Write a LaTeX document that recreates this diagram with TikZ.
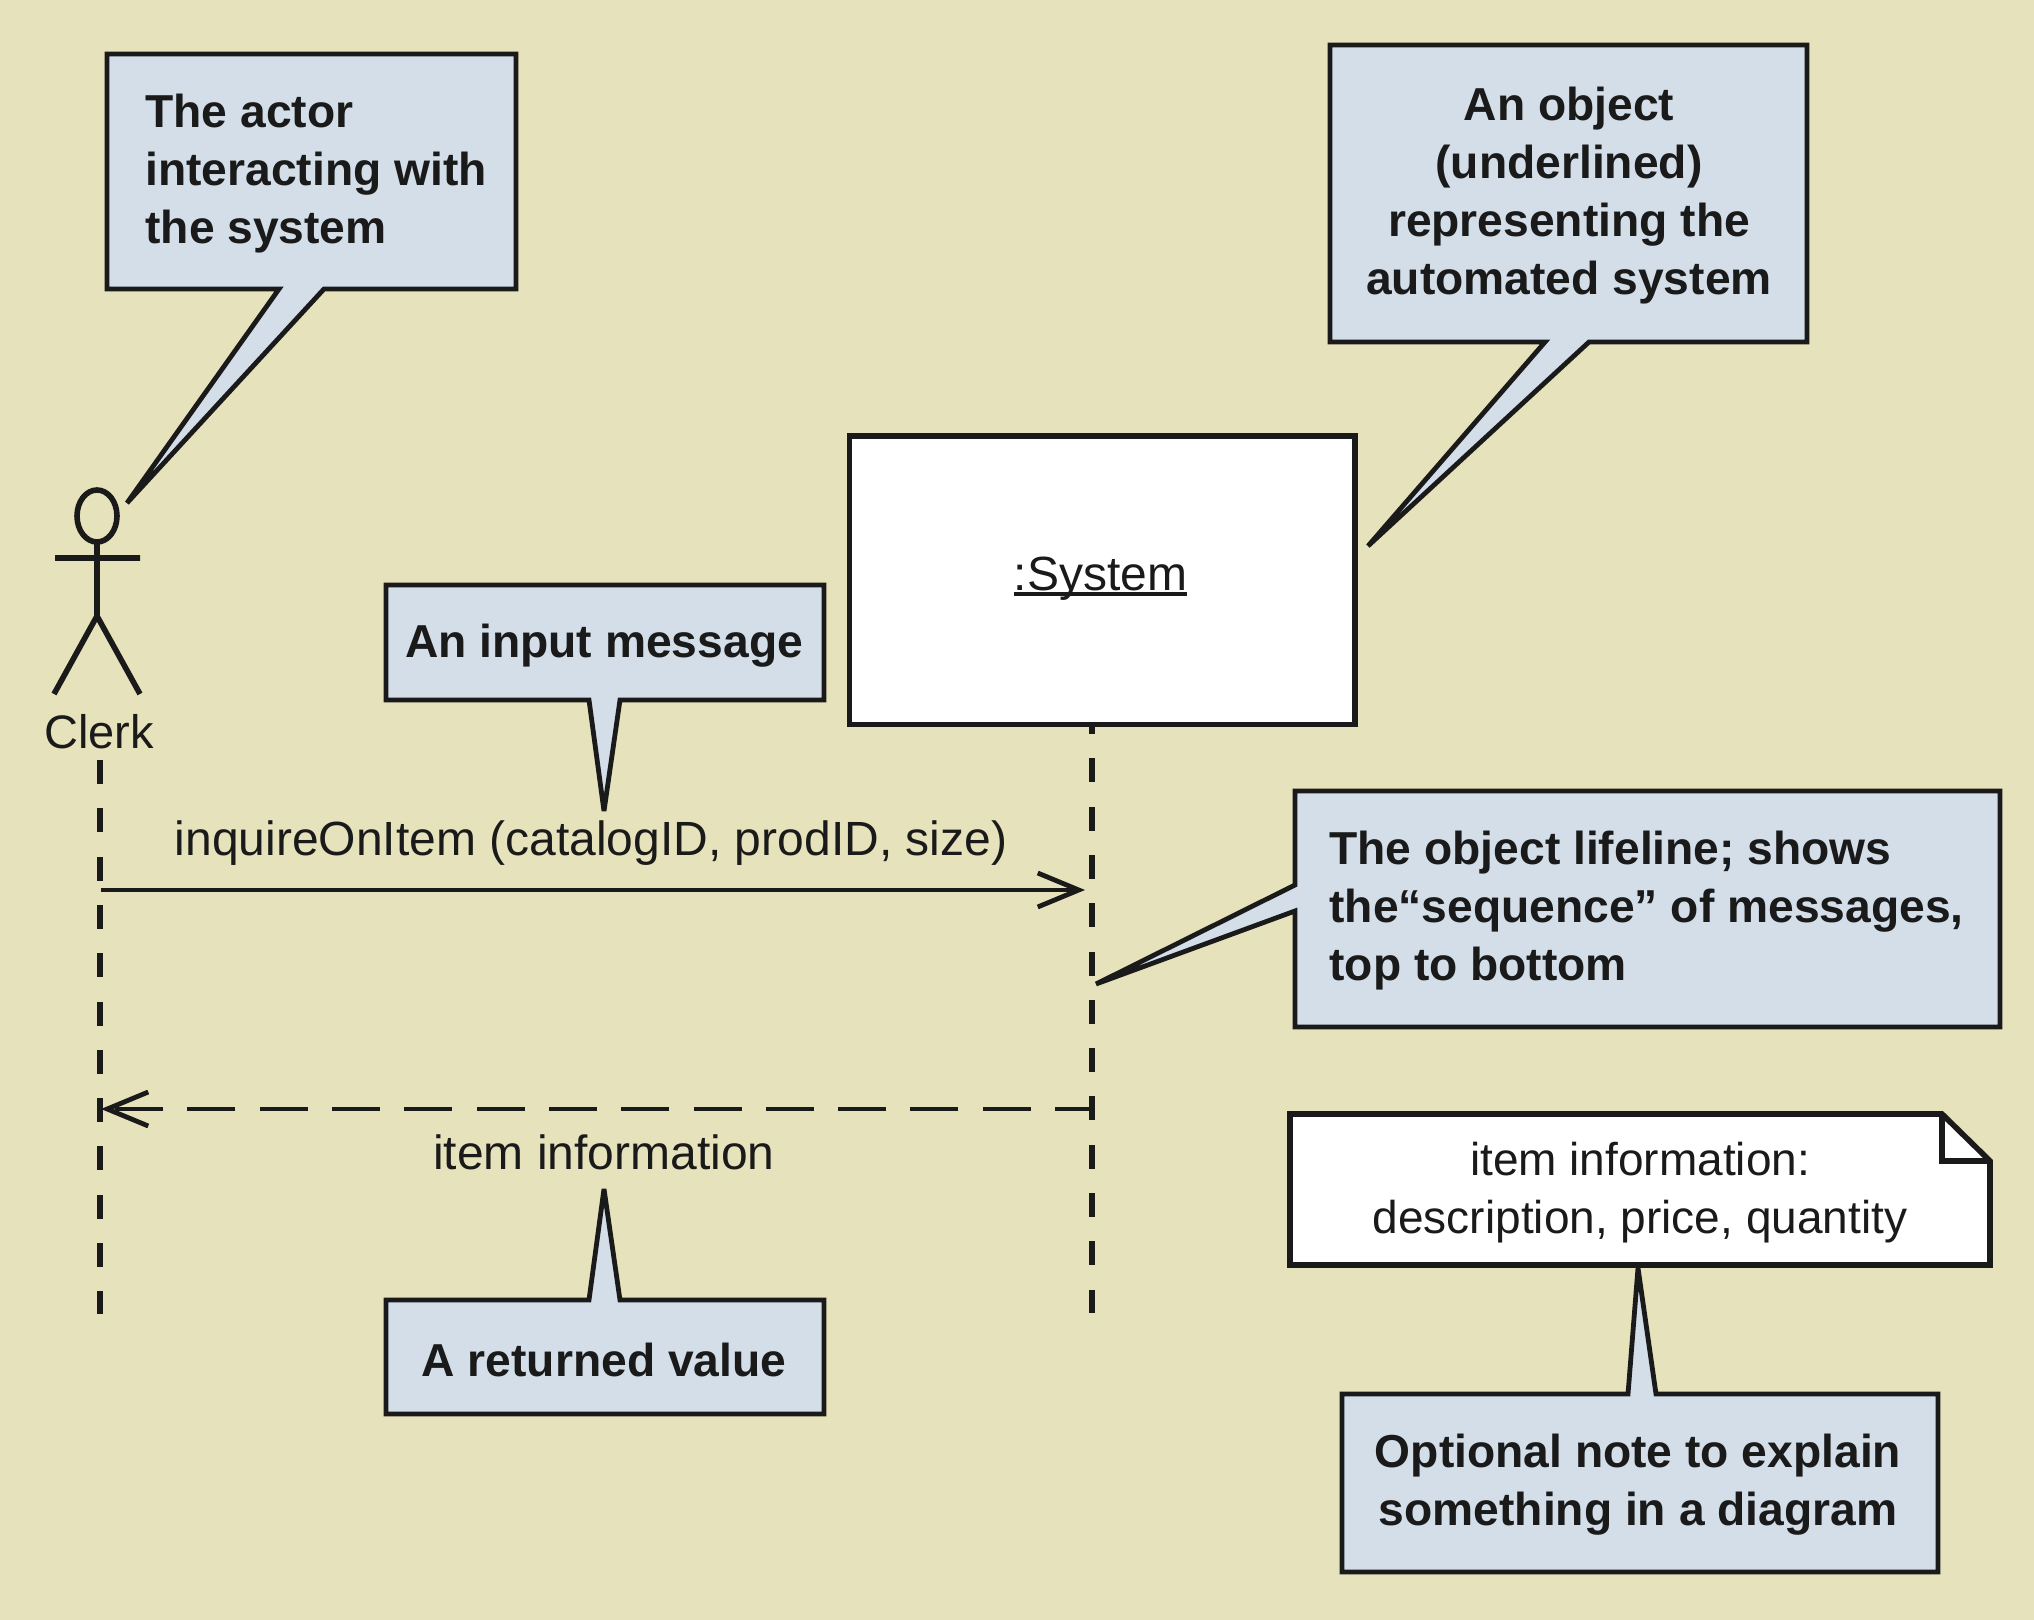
\documentclass[tikz,border=0pt]{standalone}
\usepackage{fontspec}
\setmainfont{Liberation Sans}
\usetikzlibrary{arrows.meta}
\definecolor{bgc}{HTML}{E6E2BB}
\definecolor{boxc}{HTML}{D3DEE9}
\definecolor{ink}{HTML}{1A1A1A}
\newcommand{\sysul}[1]{\setbox0\hbox{#1}\rlap{\rule[-2.8pt]{\wd0}{1.6pt}}\box0 }
\tikzset{
  x=0.5pt,y=-0.5pt,
  callout/.style={draw=ink,fill=boxc,line width=2.4pt,line join=miter,miter limit=3},
  bold text/.style={text=ink,inner sep=0pt,font=\fontsize{23.1}{29}\selectfont\bfseries},
  plain text/.style={text=ink,inner sep=0pt,font=\fontsize{24}{29}\selectfont},
  note text/.style={text=ink,inner sep=0pt,font=\fontsize{23}{29}\selectfont},
  lifeline/.style={draw=ink,line width=3.4pt,dash pattern=on 12pt off 12.15pt},
  msg/.style={draw=ink,line width=2.2pt,-{Straight Barb[length=20.5pt,width=17pt,line width=2.4pt]}},
  figure/.style={draw=ink,line width=2.8pt}
}
\begin{document}
\begin{tikzpicture}
\path[use as bounding box,fill=bgc] (0,0) rectangle (2034,1620);
% actor
\draw[figure] (97,516) ellipse [x radius=20,y radius=26];
\draw[figure] (97,542) -- (97,616) (55,558) -- (140,558) (54,694) -- (97,616) -- (140,694);
\node[plain text] (clerk) at (99,732) {\fontsize{23.5}{29}\selectfont Clerk};
% lifelines
\coordinate (clerkTop) at (100,760);
\coordinate (clerkEnd) at (100,1314);
\coordinate (sysTop) at (1092,724);
\coordinate (sysEnd) at (1092,1313);
\draw[lifeline] (clerkTop) -- (clerkEnd);
\draw[lifeline,dash phase=7pt] (sysTop) -- (sysEnd);
% system object
\node[draw=ink,fill=white,line width=2.8pt,minimum width=252.8pt,minimum height=144pt,anchor=north west,inner sep=0pt] (system) at (846.5,433.5) {};
\node[plain text,anchor=base] (systemLabel) at (1100.5,590) {\sysul{:System}};
% messages
\coordinate (m1a) at (101,890);
\coordinate (m1b) at (1085,890);
\coordinate (m2a) at (1092,1109);
\coordinate (m2b) at (101,1109);
\draw[msg] (m1a) -- (m1b);
\draw[msg,dash pattern=on 24pt off 12.15pt,dash phase=5.5pt] (m2a) -- (m2b);
\node[plain text] (m1label) at (591,843) {inquireOnItem (catalogID, prodID, size)};
\node[plain text] (m2label) at (604,1152) {item information};
% callouts
\draw[callout] (1342,1394) -- (1628,1394) -- (1638,1268) -- (1656,1394) -- (1938,1394) -- (1938,1572) -- (1342,1572) -- cycle;
\node[bold text,align=center] (c6) at (1638,1485) {Optional note to explain\\something in a diagram};
% note
\draw[draw=ink,fill=white,line width=2.8pt,line join=miter] (1290,1114) -- (1942,1114) -- (1990,1161) -- (1990,1265) -- (1290,1265) -- cycle;
\draw[draw=ink,line width=2.8pt] (1942,1114) -- (1942,1161) -- (1990,1161);
\node[note text,align=center] (note) at (1640,1193) {item information:\\description, price, quantity};
\draw[callout] (107,54) -- (516,54) -- (516,289) -- (324,289) -- (127,503) -- (279,289) -- (107,289) -- cycle;
\node[bold text,align=left,anchor=west] (c1) at (145,174) {The actor\\interacting with\\the system};
\draw[callout] (1330,45) -- (1807,45) -- (1807,342) -- (1589,342) -- (1368,546) -- (1545,342) -- (1330,342) -- cycle;
\node[bold text,align=center] (c2) at (1569,196) {An object\\(underlined)\\representing the\\automated system};
\draw[callout] (386,585) -- (824,585) -- (824,700) -- (620,700) -- (604,811) -- (589,700) -- (386,700) -- cycle;
\node[bold text] (c3) at (604,646) {An input message};
\draw[callout] (1295,791) -- (2000,791) -- (2000,1027) -- (1295,1027) -- (1295,911) -- (1096,984) -- (1295,885) -- cycle;
\node[bold text,align=left,anchor=west] (c4) at (1329,911) {The object lifeline; shows\\the“sequence” of messages,\\top to bottom};
\draw[callout] (386,1300) -- (589,1300) -- (604,1189) -- (620,1300) -- (824,1300) -- (824,1414) -- (386,1414) -- cycle;
\node[bold text] (c5) at (604,1360) {A returned value};
\end{tikzpicture}
\end{document}
